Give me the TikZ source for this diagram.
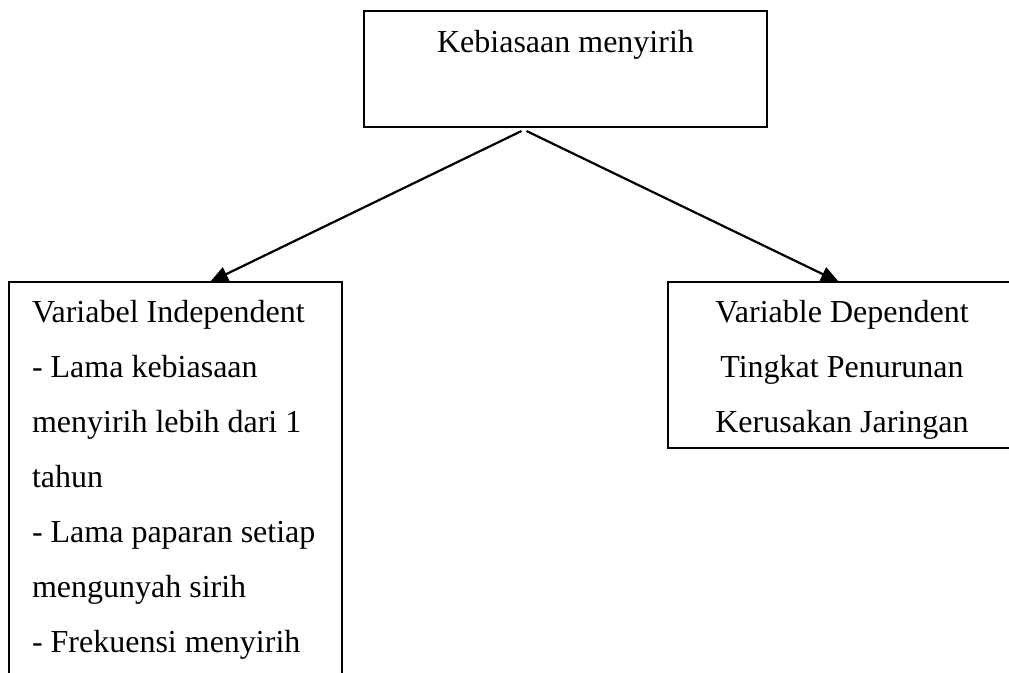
\documentclass[tikz,border=0pt]{standalone}
\usepackage{fontspec}
\setmainfont{Liberation Serif}
\usetikzlibrary{arrows.meta}

\begin{document}
\begin{tikzpicture}[x=1pt,y=-1pt]
	\tikzstyle{box}=[draw=black,line width=2.5pt,outer sep=0pt,inner sep=0pt,font=\fontsize{32pt}{55pt}\selectfont]
	\tikzstyle{arrow}=[line width=2.2pt,-{Triangle[length=18pt,width=15pt]}]
	\clip (0,0) rectangle (1009,672);
	\node[box,anchor=north west,minimum width=403pt,text height=41pt,text depth=75pt] (habit) at (364,11) {Kebiasaan menyirih};
	\node[box,anchor=north west,text width=287pt,inner xsep=23pt,align=flush left,text height=40pt,text depth=368pt] (indep) at (9,282) {Variabel Independent\\- Lama kebiasaan\\menyirih lebih dari 1\\tahun\\- Lama paparan setiap\\mengunyah sirih\\- Frekuensi menyirih};
	\node[box,anchor=north west,text width=348pt,align=flush center,text height=40pt,text depth=126pt] (dep) at (668,282) {Variable Dependent\\Tingkat Penurunan\\Kerusakan Jaringan};
	\draw[arrow] ([xshift=-44pt,yshift=-4pt]habit.south) -- ([xshift=34.5pt]indep.north);
	\draw[arrow] ([xshift=-39pt,yshift=-4pt]habit.south) -- ([xshift=-3pt]dep.north);
\end{tikzpicture}
\end{document}
